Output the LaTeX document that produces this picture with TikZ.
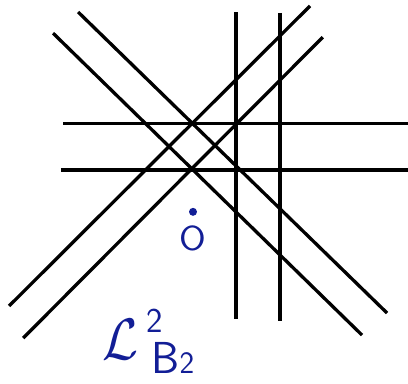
\documentclass[tikz,border=0pt]{standalone}
\usepackage{amsmath}
\definecolor{inkblue}{RGB}{18,30,150}
\tikzset{wall/.style={black, line width=3.3pt},
  ink/.style={inkblue, inner sep=0pt}}
\begin{document}
\begin{tikzpicture}[x=44pt, y=44pt]
        \useasboundingbox (-4.386,3.864) rectangle (4.886,-4.841);
        % Horizontal walls
        \foreach \y/\left in {1.05/-2.95, 0/-3.0} {
          \draw[wall] (\left,\y) -- (4.9,\y);
        }
        % Vertical walls
        \foreach \x/\top/\bot in {0.98/3.59/-3.39, 1.98/3.57/-3.43} {
          \draw[wall] (\x,\top) -- (\x,\bot);
        }
        % Diagonal walls going down to the right
        \draw[wall] (-2.61,3.59) -- (4.41,-3.25);
        \draw[wall] (-3.18,3.11) -- (3.84,-3.75);
        % Diagonal walls going up to the right
        \draw[wall] (-4.18,-3.09) -- (2.66,3.73);
        \draw[wall] (-3.86,-3.82) -- (2.95,3.02);
        % The origin
        \node[circle, fill=inkblue, inner sep=0pt, minimum size=8pt] (dot) at (0,-0.95) {};
        \node[ink, font=\sffamily\Huge, xscale=1.55, yscale=1.4] (orig) at (0,-1.55) {O};
        % Name of the arrangement
        \node[ink, font=\Huge, xscale=2.1, yscale=2.35] (name) at (-1.64,-3.86) {$\mathcal{L}$};
        \node[ink, font=\sffamily\Huge, scale=1.4] (sup) at (-0.86,-3.43) {2};
        \node[ink, font=\sffamily\Huge, scale=1.8, anchor=base west] (sub) at (-0.95,-4.62)
          {B{\LARGE 2}};
      \end{tikzpicture}
\end{document}
